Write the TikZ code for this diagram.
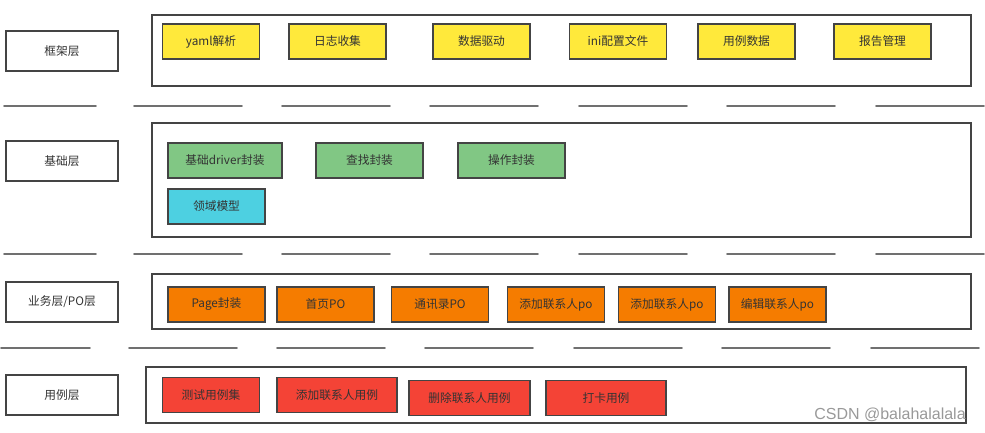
\documentclass[tikz,border=0pt]{standalone}
\usepackage{fontspec}
\setmainfont{Noto Sans CJK SC}
\newfontfamily\wmfont{Liberation Sans}
\usepackage{tikz}
\definecolor{lineGray}{HTML}{444444}
\definecolor{textGray}{HTML}{333333}
\definecolor{sepGray}{HTML}{707070}
\definecolor{fwYellow}{HTML}{FFE93B}
\definecolor{baseGreen}{HTML}{81C784}
\definecolor{domCyan}{HTML}{4DD0E1}
\definecolor{poOrange}{HTML}{F57C00}
\definecolor{caseRed}{HTML}{F44336}
\tikzset{
	cell/.style={draw=lineGray, line width=1.4pt, inner sep=0pt, text=textGray,
		font=\fontsize{8.8}{10}\selectfont, minimum height=26.25pt, minimum width=72.75pt},
	layerbox/.style={cell, fill=white, line width=1.3pt, minimum width=84pt, minimum height=30pt},
	frame/.style={draw=lineGray, line width=1.1pt},
	sep/.style={draw=sepGray, line width=1.3pt, line cap=round}
}

\begin{document}
\begin{tikzpicture}[x=0.75pt,y=-0.75pt]
			%%%%% START %%%%%
			\useasboundingbox (0,0) rectangle (985,432);
			
			% layer names
			\node[layerbox] (frameLayer) at (62,51) {框架层};
			\node[layerbox] (baseLayer) at (62,161) {基础层};
			\node[layerbox] (poLayer) at (62,302) {业务层/PO层};
			\node[layerbox] (caseLayer) at (62,395) {用例层};
			
			% containers
			\draw[frame] (152,15) rectangle (971,86);
			\draw[frame] (152,123) rectangle (971,237);
			\draw[frame] (152,274) rectangle (971,329);
			\draw[frame] (146,367) rectangle (966,423);
			
			% separators
			\foreach \s in {134,282,430,579,727,876} {
				\draw[sep] (\s,106) -- ++(108,0);
				\draw[sep] (\s,254) -- ++(108,0);
				\draw[sep] (\s-5,348) -- ++(108,0);
			}
			\draw[sep] (4,106) -- (96,106);
			\draw[sep] (4,254) -- (96,254);
			\draw[sep] (1,348) -- (90,348);
			
			% framework layer
			\node[cell, fill=fwYellow] (yaml) at (211,41.5) {yaml解析};
			\node[cell, fill=fwYellow] (logs) at (337.5,41.5) {日志收集};
			\node[cell, fill=fwYellow] (dataDrive) at (481.5,41.5) {数据驱动};
			\node[cell, fill=fwYellow] (iniConf) at (618,41.5) {ini配置文件};
			\node[cell, fill=fwYellow] (caseData) at (746.5,41.5) {用例数据};
			\node[cell, fill=fwYellow] (report) at (882.5,41.5) {报告管理};
			
			% base layer
			\node[cell, fill=baseGreen, minimum width=85.5pt] (driverWrap) at (225,160.5) {基础driver封装};
			\node[cell, fill=baseGreen, minimum width=80.25pt] (findWrap) at (369.5,160.5) {查找封装};
			\node[cell, fill=baseGreen, minimum width=80.25pt] (opWrap) at (511.5,160.5) {操作封装};
			\node[cell, fill=domCyan] (domain) at (216.5,206.5) {领域模型};
			
			% PO layer
			\node[cell, fill=poOrange] (pageWrap) at (216.5,304.5) {Page封装};
			\node[cell, fill=poOrange] (homePO) at (325.5,304.5) {首页PO};
			\node[cell, fill=poOrange] (contactsPO) at (440,304.5) {通讯录PO};
			\node[cell, fill=poOrange] (addPOa) at (556,304.5) {添加联系人po};
			\node[cell, fill=poOrange] (addPOb) at (667,304.5) {添加联系人po};
			\node[cell, fill=poOrange] (editPO) at (777.5,304.5) {编辑联系人po};
			
			% case layer
			\node[cell, fill=caseRed] (testSet) at (211,395) {测试用例集};
			\node[cell, fill=caseRed, minimum width=90pt] (addCase) at (337,395) {添加联系人用例};
			\node[cell, fill=caseRed, minimum width=90.75pt] (delCase) at (469.5,398) {删除联系人用例};
			\node[cell, fill=caseRed, minimum width=90pt] (punchCase) at (606,398) {打卡用例};
			
			\node[text=gray!80, font=\wmfont\fontsize{12}{14}\selectfont] (mark) at (890,415) {CSDN @balahalalala};
			%%%%% END %%%%%
\end{tikzpicture}
\end{document}
